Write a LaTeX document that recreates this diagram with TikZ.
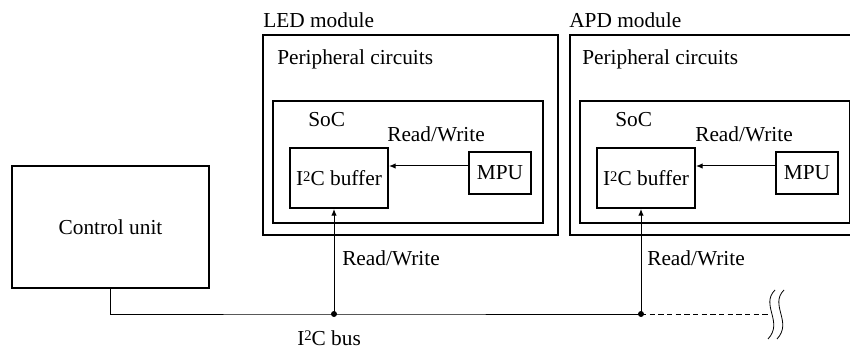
\documentclass[tikz,border=0pt]{standalone}
\usepackage{fontspec}
\setmainfont{LiberationSerif}[Extension=.ttf, UprightFont=*-Regular, BoldFont=*-Bold]
\usetikzlibrary{positioning, arrows.meta}

\newcommand{\iic}{I\raisebox{0.42ex}{\fontsize{11}{11}\selectfont 2}C}

\begin{document}
\begin{tikzpicture}[
    x=0.75pt, y=-0.75pt,
    font=\rmfamily\fontsize{16}{19}\selectfont,
    box/.style={draw, line width=1.4pt, inner sep=0pt, text centered},
    ctrlbox/.style={box, minimum width=147.75pt, minimum height=91.5pt},
    modbox/.style={box, minimum width=221.25pt, minimum height=150pt},
    socbox/.style={box, minimum width=202.5pt, minimum height=91.5pt},
    bufbox/.style={box, minimum width=73.5pt, minimum height=45pt},
    mpubox/.style={box, minimum width=46.5pt, minimum height=31.5pt},
    lbl/.style={anchor=base west, inner sep=0pt},
    arr/.style={-{Latex[length=5pt, width=4pt]}, line width=0.75pt},
    wire/.style={line width=0.75pt},
    joint/.style={circle, fill, inner sep=0pt, minimum size=4.5pt},
]
\useasboundingbox (0,0) rectangle (850,349);
\clip (0,0) rectangle (850,349);

% === Control unit ===
\node[ctrlbox, text height=1.1em] (ctrl) at (110.5,227) {Control unit};

% === LED module ===
\node[modbox] (ledmod) at (410.5,135) {};
\node[socbox] (ledsoc) at (408,162) {};
\node[bufbox] (ledbuf) at (339,178) {\iic{} buffer};
\node[mpubox] (ledmpu) at (500,173) {MPU};
\node[lbl] (ledname) at (263,28) {LED module};
\node[lbl] (ledperi) at (277,65) {Peripheral circuits};
\node[lbl] (ledsocname) at (308,127) {SoC};
\node[lbl] (ledrw) at (387,142) {Read/Write};

% === APD module ===
\node[modbox, right=7.5pt of ledmod] (apdmod) {};
\node[socbox] (apdsoc) at (715,162) {};
\node[bufbox] (apdbuf) at (646,178) {\iic{} buffer};
\node[mpubox] (apdmpu) at (807,173) {MPU};
\node[lbl] (apdname) at (569,28) {APD module};
\node[lbl] (apdperi) at (582,65) {Peripheral circuits};
\node[lbl] (apdsocname) at (615,127) {SoC};
\node[lbl] (apdrw) at (695,142) {Read/Write};

% Arrows: MPU -> buffer
\draw[arr] ([yshift=5.25pt]ledmpu.west) -- ([yshift=5.25pt]ledmpu.west -| ledbuf.east);
\draw[arr] ([yshift=5.25pt]apdmpu.west) -- ([yshift=5.25pt]apdmpu.west -| apdbuf.east);

% === I2C bus ===
\coordinate (ledtap) at (334,314);
\coordinate (apdtap) at (641,314);
\coordinate (busend) at (768,314);
\draw[wire] (ctrl.south) |- (ledtap) -- (apdtap);
\draw[wire, dash pattern=on 4pt off 2.5pt] (apdtap) -- (busend);
\draw[arr] (ledtap) -- (ledtap |- ledbuf.south);
\draw[arr] (apdtap) -- (apdtap |- apdbuf.south);
\node[joint] (ledjoint) at (ledtap) {};
\node[joint] (apdjoint) at (apdtap) {};
\node[lbl] (ledbusrw) at (342,265) {Read/Write};
\node[lbl] (apdbusrw) at (647,265) {Read/Write};
\node[lbl] (busname) at (297,345) {\iic{} bus};

% break mark
\draw[line width=0.6pt] (775,290) .. controls (760,305) and (784,322) .. (768,339);
\draw[line width=0.6pt] (784,290) .. controls (769,305) and (793,322) .. (777,339);

\end{tikzpicture}
\end{document}
